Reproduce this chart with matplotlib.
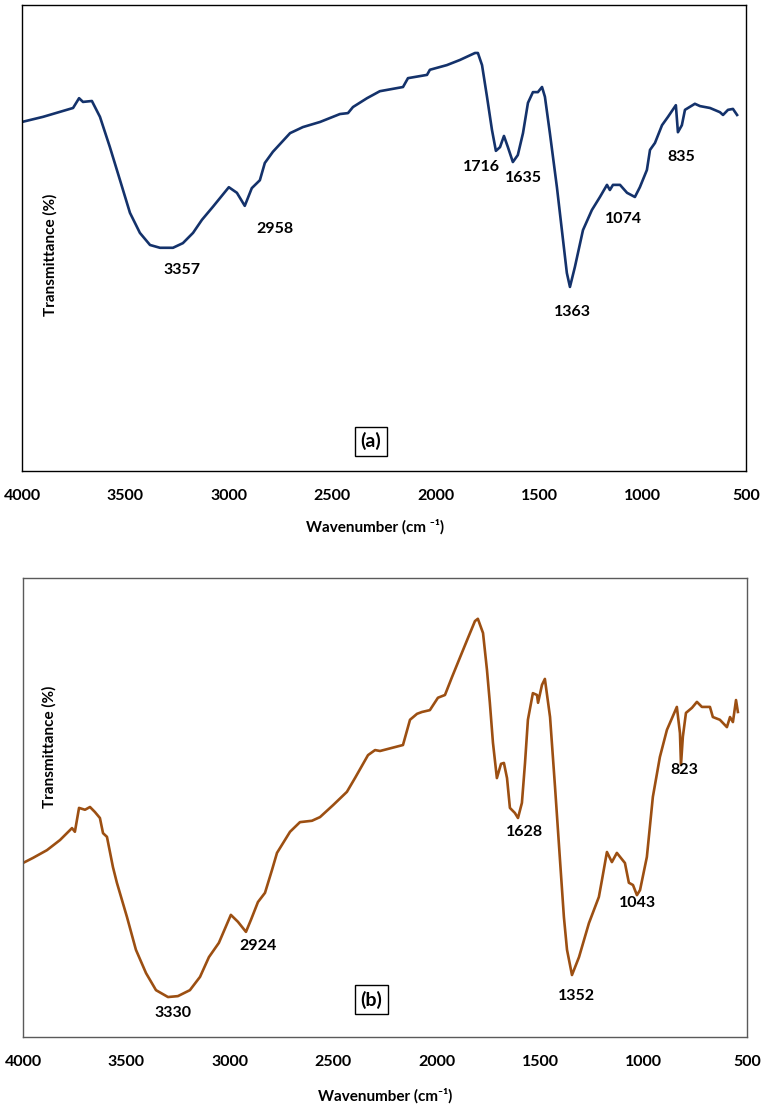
import matplotlib.pyplot as plt

plt.rcParams['font.family'] = ['Lato', 'DejaVu Sans']
plt.rcParams['font.weight'] = 'bold'

# FTIR spectrum (a)
wave_a = [4000, 3898, 3753, 3724, 3705, 3662, 3623, 3575, 3526, 3478, 3430, 3381,
          3333, 3270, 3222, 3173, 3130, 3077, 3000, 2961, 2923, 2889, 2850, 2826,
          2787, 2704, 2642, 2559, 2463, 2424, 2400, 2332, 2270, 2158, 2134, 2042,
          2028, 1946, 1883, 1810, 1796, 1776, 1752, 1728, 1709, 1689, 1670, 1651,
          1627, 1603, 1578, 1554, 1530, 1506, 1486, 1472, 1448, 1414, 1390, 1366,
          1351, 1327, 1288, 1245, 1206, 1172, 1158, 1143, 1109, 1075, 1037, 1013,
          979, 964, 940, 906, 877, 839, 829, 810, 795, 747, 722, 674, 626, 611,
          587, 563, 543]
trans_a = [74.9, 76.0, 77.9, 80.0, 79.2, 79.4, 76.0, 69.5, 62.4, 55.4, 51.1, 48.5,
           47.9, 47.9, 48.9, 51.1, 53.9, 56.7, 60.9, 59.7, 56.9, 60.7, 62.4, 66.1,
           68.5, 72.5, 73.8, 74.9, 76.6, 76.8, 78.1, 80.0, 81.5, 82.4, 84.3, 85.0,
           86.1, 87.1, 88.2, 89.7, 89.7, 87.1, 80.3, 73.2, 68.7, 69.5, 71.9, 69.5,
           66.3, 67.8, 72.5, 79.0, 81.3, 81.3, 82.4, 80.3, 72.5, 60.9, 51.7, 42.5,
           39.5, 43.8, 51.7, 56.0, 58.8, 61.4, 60.3, 61.4, 61.4, 59.7, 58.8, 60.9,
           64.6, 68.9, 70.4, 74.2, 76.0, 78.5, 72.7, 74.2, 77.5, 78.8, 78.3, 77.9,
           77.0, 76.4, 77.5, 77.7, 76.4]
peaks_a = ['3357', '2958', '1716', '1635', '1363', '1074', '835']

# FTIR spectrum (b)
wave_b = [4000, 3952, 3884, 3821, 3763, 3749, 3729, 3700, 3676, 3652, 3628, 3613,
          3594, 3565, 3546, 3497, 3454, 3405, 3357, 3299, 3251, 3193, 3144, 3101,
          3053, 2995, 2961, 2922, 2898, 2864, 2830, 2796, 2772, 2709, 2661, 2603,
          2564, 2501, 2434, 2395, 2332, 2298, 2274, 2163, 2129, 2095, 2071, 2033,
          1994, 1960, 1926, 1888, 1849, 1815, 1801, 1776, 1757, 1743, 1728, 1709,
          1689, 1675, 1660, 1646, 1622, 1607, 1588, 1573, 1559, 1535, 1515, 1510,
          1491, 1477, 1452, 1428, 1404, 1385, 1370, 1346, 1312, 1264, 1216, 1201,
          1177, 1153, 1129, 1090, 1071, 1051, 1032, 1017, 984, 955, 921, 887, 839,
          824, 819, 810, 795, 766, 742, 718, 679, 665, 631, 597, 582, 568, 553, 544]
trans_b = [37.9, 39.0, 40.7, 42.9, 45.5, 44.7, 49.9, 49.5, 50.1, 49.0, 47.7, 44.4,
           43.6, 37.0, 33.6, 26.1, 19.0, 13.9, 10.2, 8.7, 8.9, 10.2, 13.1, 17.4,
           20.5, 26.6, 25.1, 22.9, 25.5, 29.4, 31.4, 36.4, 40.1, 44.7, 46.8, 47.1,
           47.9, 50.5, 53.4, 56.4, 61.4, 62.5, 62.3, 63.6, 69.1, 70.4, 70.8, 71.2,
           73.9, 74.5, 78.4, 82.6, 86.9, 90.6, 91.1, 88.0, 80.0, 72.8, 64.1, 56.4,
           59.5, 59.7, 56.4, 49.9, 48.8, 47.7, 51.0, 59.7, 69.1, 74.9, 74.5, 72.8,
           76.7, 78.0, 69.7, 54.5, 38.6, 26.1, 19.0, 13.5, 17.4, 24.8, 30.5, 34.2,
           40.3, 38.1, 40.1, 37.9, 33.6, 33.1, 30.9, 32.0, 39.2, 52.3, 61.0, 66.9, 71.9,
           66.2, 59.3, 65.4, 70.6, 71.7, 73.0, 71.9, 71.9, 69.7, 69.1, 67.5, 69.7,
           68.6, 73.4, 70.8]
peaks_b = ['3330', '2924', '1352', '1043', '1628', '823']

x_ticks = [4000, 3500, 3000, 2500, 2000, 1500, 1000, 500]

# label positions in axes fractions
pos_a = [(0.221, 0.431), (0.349, 0.519), (0.635, 0.652), (0.693, 0.629),
         (0.760, 0.341), (0.831, 0.541), (0.910, 0.674)]
pos_b = [(0.207, 0.052), (0.325, 0.198), (0.765, 0.089), (0.849, 0.292),
         (0.693, 0.447), (0.914, 0.582)]

fig = plt.figure(figsize=(7.63, 11.08), dpi=100)
ax_a = fig.add_axes([0.0288, 0.5749, 0.9489, 0.4206])
ax_b = fig.add_axes([0.0301, 0.0641, 0.9489, 0.4143])

panels = [
    (ax_a, wave_a, trans_a, '#14326b', 'black', peaks_a, pos_a, '(a)',
     (0.482, 0.064), (0.039, 0.464), 'Wavenumber (cm \u207b\u00b9)', 0.488, -0.103),
    (ax_b, wave_b, trans_b, '#9c4f12', '#5a5a5a', peaks_b, pos_b, '(b)',
     (0.481, 0.081), (0.037, 0.632), 'Wavenumber (cm\u207b\u00b9)', 0.5, -0.112),
]

for ax, w, t, col, edge, labels, pos, tag, tagpos, ylpos, xl, xlx, xly in panels:
    ax.plot(w, t, color=col, linewidth=1.9)
    ax.set_xlim(4000, 500)
    ax.set_ylim(0, 100)
    ax.set_xticks(x_ticks)
    ax.set_yticks([])
    ax.tick_params(axis='x', length=0, pad=13, labelsize=11.5)
    for s in ax.spines.values():
        s.set_color(edge)
        s.set_linewidth(1.0)

    for lab, (px, py) in zip(labels, pos):
        ax.text(px, py, lab, transform=ax.transAxes, ha='center', va='center',
                fontsize=11.5, fontweight='bold')

    ax.text(tagpos[0], tagpos[1], tag, transform=ax.transAxes, ha='center',
            va='center', fontsize=14, fontweight='bold',
            bbox=dict(boxstyle='square,pad=0.28', fc='white', ec='black', lw=1))

    ax.text(ylpos[0], ylpos[1], 'Transmittance (%)', transform=ax.transAxes,
            rotation=90, ha='center', va='center', fontsize=11, fontweight='bold')

    ax.set_xlabel(xl, fontsize=11, fontweight='bold')
    ax.xaxis.set_label_coords(xlx, xly)

fig.savefig('out.png', dpi=100)
